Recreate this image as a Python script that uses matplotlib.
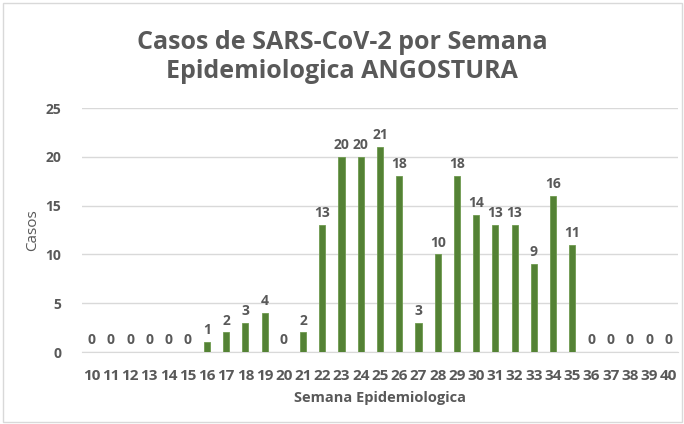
import matplotlib
matplotlib.use("Agg")
import matplotlib.pyplot as plt
from matplotlib.patches import Rectangle

weeks = list(range(10, 41))
cases = [0, 0, 0, 0, 0, 0, 1, 2, 3, 4, 0, 2, 13, 20, 20, 21, 18, 3, 10, 18,
         14, 13, 13, 9, 16, 11, 0, 0, 0, 0, 0]
yticks = [0, 5, 10, 15, 20, 25]

plt.rcParams['font.family'] = ['Open Sans', 'DejaVu Sans']
text_col = '#595959'
bar_col = '#548235'

fig = plt.figure(figsize=(6.84, 4.24), dpi=100)
ax = fig.add_axes([82 / 684, 1 - 352 / 424, (678 - 82) / 684, (352 - 108) / 424])

x = list(range(len(weeks)))
ax.bar(x, cases, width=0.32, color=bar_col, edgecolor='#6f9a50', linewidth=0.6, zorder=3)
for xi, v in zip(x, cases):
    ax.text(xi, v + 0.5, str(v), ha='center', va='bottom', fontsize=10,
            fontweight='bold', color=text_col)

ax.set_xlim(-0.5, len(weeks) - 0.5)
ax.set_ylim(0, 25)
ax.set_yticks(yticks)
ax.set_yticklabels([str(t) for t in yticks], fontsize=10, fontweight='bold', color=text_col)
ax.set_xticks(x)
ax.set_xticklabels([str(w) for w in weeks], fontsize=11, fontweight='bold', color=text_col)
ax.tick_params(axis='both', length=0)
ax.tick_params(axis='x', pad=12)
ax.tick_params(axis='y', pad=15)
ax.grid(axis='y', color='#d9d9d9', linewidth=1, zorder=0)
for s in ['top', 'right', 'left']:
    ax.spines[s].set_visible(False)
ax.spines['bottom'].set_color('#d9d9d9')

ax.set_xlabel('Semana Epidemiologica', fontsize=10.5, fontweight='bold', color=text_col, labelpad=6)
ax.set_ylabel('Casos', fontsize=11, color=text_col, labelpad=4)

fig.text(0.5, 1 - 57 / 424, 'Casos de SARS-CoV-2 por Semana\nEpidemiologica ANGOSTURA',
         ha='center', va='center', fontsize=18, fontweight='bold', color=text_col,
         linespacing=1.25)

fig.patches.append(Rectangle((3 / 684, 2 / 424), 679 / 684, 419 / 424, transform=fig.transFigure,
                             fill=False, edgecolor='#d9d9d9', linewidth=1))

fig.savefig('out.png', dpi=100)
